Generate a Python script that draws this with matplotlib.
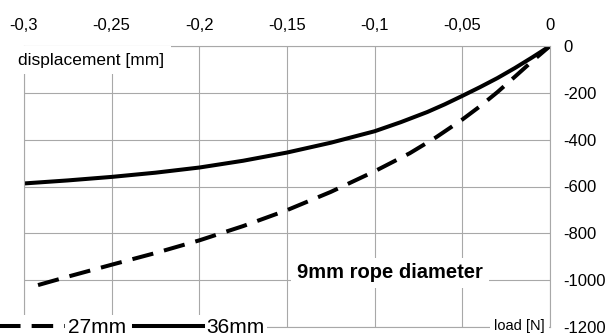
"""
plot.py - load / displacement curves for two rope drum diameters
"""
import matplotlib
matplotlib.use('Agg')
import matplotlib.pyplot as plt

# data
DISP_27 = [-0.292, -0.275, -0.25, -0.225, -0.2, -0.175, -0.15, -0.125,
           -0.1, -0.08, -0.065, -0.05, -0.04, -0.03, -0.02, -0.01, 0.0]
LOAD_27 = [-1021, -985, -934, -884, -830, -769, -701, -623,
           -535, -458, -390, -314, -258, -197, -131, -64, 0]

DISP_36 = [-0.3, -0.275, -0.25, -0.225, -0.2, -0.175, -0.15, -0.125,
           -0.1, -0.085, -0.07, -0.06, -0.05, -0.04, -0.03, -0.02, -0.01, 0.0]
LOAD_36 = [-587, -574, -559, -541, -519, -490, -455, -413,
           -364, -325, -282, -249, -213, -176, -137, -94, -48, 0]

X_TICKS = [-0.3, -0.25, -0.2, -0.15, -0.1, -0.05, 0.0]
X_LABELS = ['-0,3', '-0,25', '-0,2', '-0,15', '-0,1', '-0,05', '0']
Y_TICKS = [0, -200, -400, -600, -800, -1000, -1200]
Y_LABELS = ['0', '-200', '-400', '-600', '-800', '-1000', '-1200']

SERIES_NAMES = ['27mm', '36mm']
GRID_COLOR = '#a8a8a8'
W, H = 606, 336


def main():
    """
    draw the chart and save it as out.png
    :return: N/A
    """
    plt.rcParams['font.family'] = ['Liberation Sans', 'DejaVu Sans']
    plt.rcParams['lines.scale_dashes'] = False

    fig = plt.figure(figsize=(W / 100, H / 100), dpi=100)
    ax = fig.add_axes([24 / W, 9 / H, 526 / W, 281 / H])

    ax.plot(DISP_27, LOAD_27, color='black', lw=2.9, dashes=(15.5, 8),
            solid_capstyle='butt', dash_capstyle='butt', label=SERIES_NAMES[0])
    ax.plot(DISP_36, LOAD_36, color='black', lw=2.9, label=SERIES_NAMES[1])

    ax.set_xlim(-0.3, 0)
    ax.set_ylim(-1200, 0)
    ax.xaxis.tick_top()
    ax.yaxis.tick_right()
    ax.set_xticks(X_TICKS)
    ax.set_xticklabels(X_LABELS)
    ax.set_yticks(Y_TICKS)
    ax.set_yticklabels(Y_LABELS)
    ax.tick_params(axis='x', length=0, pad=9, labelsize=12)
    ax.tick_params(axis='y', length=0, pad=9.5, labelsize=12)
    ax.grid(True, color=GRID_COLOR, lw=0.8)
    for side in ax.spines.values():
        side.set_color(GRID_COLOR)
        side.set_linewidth(0.8)

    # labels sitting on white boxes over the grid
    fig.text(18 / W, 1 - 60 / H, 'displacement [mm]', fontsize=12.5,
             ha='left', va='center',
             bbox=dict(facecolor='white', edgecolor='none', pad=5))
    fig.text(390 / W, 1 - 273 / H, '9mm rope diameter', fontsize=14.5,
             fontweight='bold', ha='center', va='center',
             bbox=dict(facecolor='white', edgecolor='none', pad=4))
    fig.text(545 / W, 1 - 326 / H, 'load [N]', fontsize=10.5,
             ha='right', va='center',
             bbox=dict(facecolor='white', edgecolor='none', pad=3))

    ax.legend(loc='lower left', bbox_to_anchor=(-0.012, -0.012),
              bbox_transform=fig.transFigure, ncol=2, fontsize=15,
              frameon=True, framealpha=1, edgecolor='none', fancybox=False,
              borderpad=0.15, borderaxespad=0, handlelength=3.3,
              handletextpad=0.15, columnspacing=0.4)

    fig.savefig('out.png', dpi=100)


if __name__ == "__main__":
    main()
